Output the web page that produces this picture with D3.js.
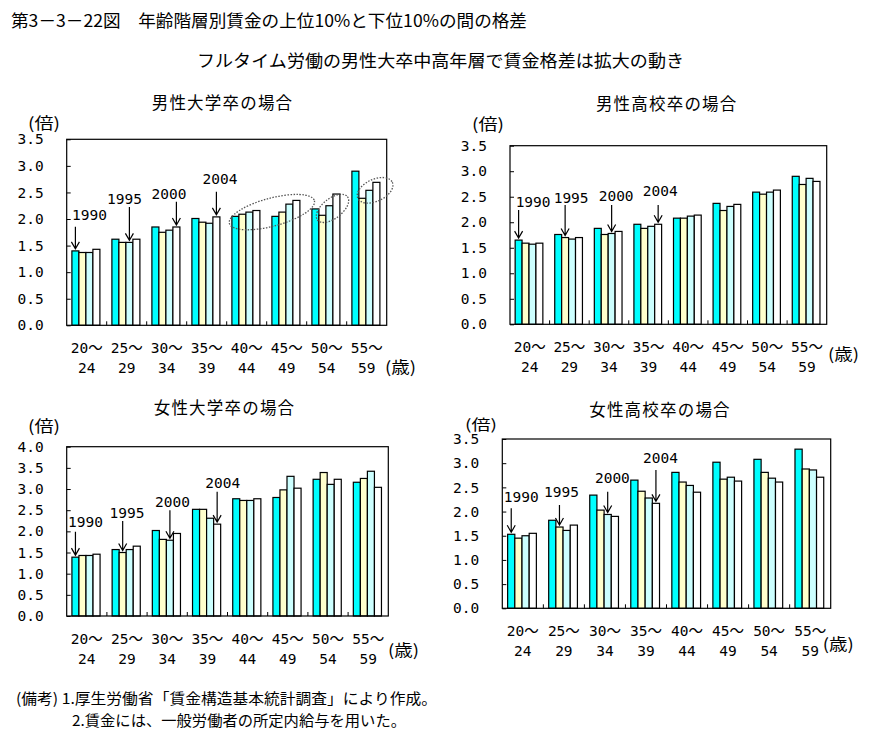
<!DOCTYPE html>
<html><head><meta charset="utf-8">
<script src="https://cdn.jsdelivr.net/npm/d3@7"></script>
<style>
body{margin:0;background:#fff;}
text{font-family:"Noto Sans CJK JP","Noto Sans",sans-serif;fill:#000;}
.num{font-family:"DejaVu Sans Mono","Noto Sans CJK JP",monospace;}
</style>
</head><body>
<svg id="c" width="894" height="742" xmlns="http://www.w3.org/2000/svg"></svg>
<script>
// ---------- data ----------
const ageTop = ["20～","25～","30～","35～","40～","45～","50～","55～"];
const ageBottom = ["24","29","34","39","44","49","54","59"];
const years = ["1990","1995","2000","2004"];
const yearColors = ["#00FFFF","#FFFFCC","#CCFFFF","#FFFFFF"];
const ticks35 = [0,0.5,1.0,1.5,2.0,2.5,3.0,3.5];
const ticks40 = [0,0.5,1.0,1.5,2.0,2.5,3.0,3.5,4.0];

// values per age group: [1990, 1995, 2000, 2004]
const maleUniv = [
  [1.40,1.37,1.37,1.43],[1.62,1.56,1.56,1.62],[1.85,1.75,1.79,1.85],[2.01,1.94,1.92,2.04],
  [2.05,2.09,2.13,2.16],[2.05,2.13,2.28,2.35],[2.19,2.07,2.25,2.47],[2.90,2.39,2.54,2.69]];
const maleHigh = [
  [1.65,1.59,1.57,1.59],[1.76,1.70,1.67,1.70],[1.88,1.76,1.78,1.82],[1.96,1.88,1.92,1.96],
  [2.08,2.08,2.12,2.14],[2.37,2.23,2.31,2.35],[2.59,2.55,2.59,2.63],[2.90,2.74,2.86,2.80]];
const femaleUniv = [
  [1.39,1.43,1.43,1.46],[1.57,1.50,1.57,1.65],[2.02,1.81,1.79,1.95],[2.52,2.52,2.31,2.17],
  [2.77,2.73,2.73,2.77],[2.80,2.98,3.30,3.02],[3.23,3.39,3.11,3.23],[3.16,3.25,3.42,3.04]];
const femaleHigh = [
  [1.53,1.45,1.50,1.55],[1.82,1.68,1.61,1.72],[2.34,2.03,1.94,1.90],[2.65,2.42,2.28,2.17],
  [2.81,2.61,2.54,2.40],[3.02,2.67,2.71,2.63],[3.08,2.81,2.69,2.61],[3.29,2.88,2.86,2.71]];

// arrow annotations: which year bar, in which age group; arrow top in axis units
const arrowsMU = [{year:"1990",age:"20～",top:1.855},{year:"1995",age:"25～",top:2.226,bar:"2000"},{year:"2000",age:"30～",top:2.326,bar:"2004"},{year:"2004",age:"35～",top:2.514}];
const arrowsMH = [{year:"1990",age:"20～",top:2.24},{year:"1995",age:"25～",top:2.338},{year:"2000",age:"30～",top:2.338},{year:"2004",age:"35～",top:2.338}];
const arrowsFU = [{year:"1990",age:"20～",top:1.99},{year:"1995",age:"25～",top:2.244},{year:"2000",age:"30～",top:2.50},{year:"2004",age:"35～",top:2.936}];
const arrowsFH = [{year:"1990",age:"20～",top:2.067},{year:"1995",age:"25～",top:2.136},{year:"2000",age:"30～",top:2.41},{year:"2004",age:"35～",top:2.86}];

// dotted ellipses (male university panel): position in bands, value
const ellipsesMU = [{pos:5.13,v:2.13},{pos:6.645,v:2.20},{pos:7.71,v:2.54}];

// ---------- layout ----------
const panels = [
  {title:"男性大学卒の場合", data:maleUniv, ticks:ticks35, arrows:arrowsMU, ellipses:ellipsesMU,
   box:[66.7,139.3,386.7,325.3], tpos:[222.5,101.7], bai:[28,121.7], sai:[385,365.7],
   lab:[[14,-11.7],[-5,-7.7],[-7.5,-7.7],[3.6,-12.4]], ell:[[44,14,-15],[19,10,-38],[19,11,-25]]},
  {title:"男性高校卒の場合", data:maleHigh, ticks:ticks35, arrows:arrowsMH, ellipses:[],
   box:[510,145.7,826.7,324.3], tpos:[666.7,103], bai:[472,123], sai:[828,353.3],
   lab:[[14.5,-8.3],[6,-6.7],[4.5,-9],[2,-14.3]]},
  {title:"女性大学卒の場合", data:femaleUniv, ticks:ticks40, arrows:arrowsFU, ellipses:[],
   box:[66.7,446.7,388.3,616], tpos:[224.5,406.7], bai:[28,425], sai:[388,649.3],
   lab:[[10,-9.4],[4.3,-7.7],[2.6,-7.7],[5.5,-8.4]]},
  {title:"女性高校卒の場合", data:femaleHigh, ticks:ticks35, arrows:arrowsFH, ellipses:[],
   box:[502.3,439,830.7,608.3], tpos:[660,409], bai:[465,423.5], sai:[822.7,643.3], baiSize:14.5,
   lab:[[10,-11.6],[2,-13.3],[4.7,-13.4],[4.5,-11.7]]}
];

const svg = d3.select("#c");
svg.append("rect").attr("width",894).attr("height",742).attr("fill","#fff");

// headings
svg.append("text").attr("x",11).attr("y",19).attr("dominant-baseline","central")
  .attr("font-size",17).attr("textLength",516).attr("lengthAdjust","spacingAndGlyphs")
  .text("第3－3－22図　年齢階層別賃金の上位10%と下位10%の間の格差");
svg.append("text").attr("x",197).attr("y",59).attr("dominant-baseline","central")
  .attr("font-size",17).attr("textLength",487).attr("lengthAdjust","spacingAndGlyphs")
  .text("フルタイム労働の男性大卒中高年層で賃金格差は拡大の動き");

panels.forEach(p => {
  const [L,T,R,B] = p.box;
  const g = svg.append("g");
  const x0 = d3.scaleBand().domain(ageTop).range([L,R]);
  const bw = x0.bandwidth();
  const x1 = d3.scaleBand().domain(years).range([0.13*bw, 0.83*bw]);
  const y = d3.scaleLinear().domain([0, d3.max(p.ticks)]).range([B,T]);

  // bars
  p.data.forEach((vals,i) => {
    g.selectAll(null).data(vals).join("rect")
      .attr("x",(d,j)=>x0(ageTop[i])+x1(years[j]))
      .attr("y",d=>y(d))
      .attr("width",x1.bandwidth())
      .attr("height",d=>B-y(d))
      .attr("fill",(d,j)=>yearColors[j])
      .attr("stroke","#000").attr("stroke-width",1.2);
  });

  // frame
  g.append("rect").attr("x",L).attr("y",T).attr("width",R-L).attr("height",B-T)
    .attr("fill","none").attr("stroke","#000").attr("stroke-width",1.2);

  // y axis
  const ya = g.append("g").attr("transform",`translate(${L},0)`)
    .call(d3.axisLeft(y).tickValues(p.ticks).tickFormat(d3.format(".1f")).tickSizeInner(-4).tickSizeOuter(0).tickPadding(23));
  ya.select(".domain").remove();
  ya.selectAll("line").attr("stroke","#000");
  ya.selectAll("text").attr("class","num").attr("font-size",14.5).attr("font-family",null).attr("fill","#000");

  // x ticks at band boundaries (inside)
  g.selectAll(null).data(ageTop.slice(1)).join("line")
    .attr("x1",d=>x0(d)).attr("x2",d=>x0(d)).attr("y1",B).attr("y2",B-4)
    .attr("stroke","#000");

  // category labels
  g.selectAll(null).data(ageTop).join("text").attr("class","num")
    .attr("x",d=>x0(d)+bw/2).attr("y",B+23).attr("text-anchor","middle")
    .attr("dominant-baseline","central").attr("font-size",14.5).text(d=>d);
  g.selectAll(null).data(ageBottom).join("text").attr("class","num")
    .attr("x",(d,i)=>x0(ageTop[i])+bw/2).attr("y",B+42.5).attr("text-anchor","middle")
    .attr("dominant-baseline","central").attr("font-size",14.5).text(d=>d);

  // unit labels
  g.append("text").attr("x",p.bai[0]).attr("y",p.bai[1]).attr("dominant-baseline","central")
    .attr("font-size",p.baiSize||16).attr("textLength",32).attr("lengthAdjust","spacingAndGlyphs").text("(倍)");
  g.append("text").attr("x",p.sai[0]).attr("y",p.sai[1]).attr("dominant-baseline","central")
    .attr("font-size",16).attr("textLength",31).attr("lengthAdjust","spacingAndGlyphs").text("(歳)");

  // panel title
  g.append("text").attr("x",p.tpos[0]).attr("y",p.tpos[1]).attr("text-anchor","middle")
    .attr("dominant-baseline","central").attr("font-size",16.5).attr("letter-spacing",1.2).text(p.title);

  // arrows + year labels
  p.arrows.forEach((a,k) => {
    const bi = years.indexOf(a.bar || a.year);
    const ai = years.indexOf(a.year);
    const gi = ageTop.indexOf(a.age);
    const ax = x0(a.age) + x1(years[bi]) + x1.bandwidth()/2;
    const tip = y(p.data[gi][bi]) - 2;
    const top = y(a.top);
    g.append("path")
      .attr("d",`M${ax},${top}V${tip}M${ax-4},${tip-7}L${ax},${tip}L${ax+4},${tip-7}`)
      .attr("fill","none").attr("stroke","#000").attr("stroke-width",1.2);
    const [dx,dy] = p.lab[k];
    g.append("text").attr("class","num").attr("x",ax+dx).attr("y",top+dy)
      .attr("text-anchor","middle").attr("dominant-baseline","central")
      .attr("font-size",14.5).text(years[ai]);
  });

  // dotted ellipses
  p.ellipses.forEach((e,k) => {
    const [rx,ry,ang] = p.ell[k];
    const cx = L + e.pos*bw, cy = y(e.v);
    g.append("ellipse").attr("cx",0).attr("cy",0).attr("rx",rx).attr("ry",ry)
      .attr("transform",`translate(${cx},${cy}) rotate(${ang})`)
      .attr("fill","none").attr("stroke","#555").attr("stroke-width",1.3)
      .attr("stroke-dasharray","1.5,1.5");
  });
});

// notes
svg.append("text").attr("x",16).attr("y",697).attr("dominant-baseline","central")
  .attr("font-size",15).attr("textLength",421).attr("lengthAdjust","spacingAndGlyphs")
  .text("(備考) 1.厚生労働省「賃金構造基本統計調査」により作成。");
svg.append("text").attr("x",72).attr("y",719).attr("dominant-baseline","central")
  .attr("font-size",15).attr("textLength",334).attr("lengthAdjust","spacingAndGlyphs")
  .text("2.賃金には、一般労働者の所定内給与を用いた。");
</script>
</body></html>
